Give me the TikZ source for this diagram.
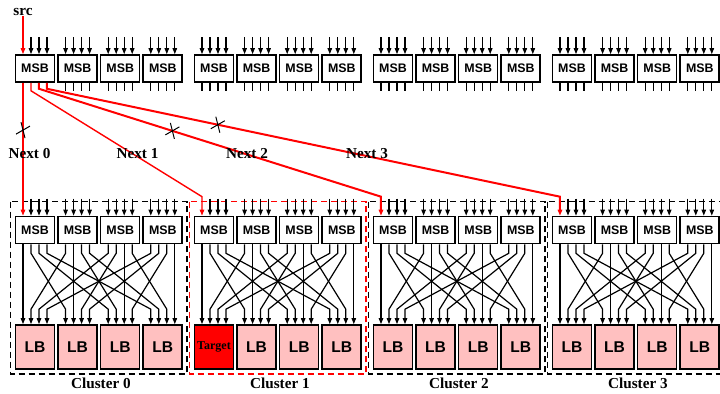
\documentclass[tikz,border=0pt]{standalone}
\usepackage{fontspec}
\setmainfont{Liberation Serif}
\newfontfamily\boxfont{Liberation Sans}
\usetikzlibrary{arrows.meta,calc}
\definecolor{lbpink}{HTML}{FFC0C0}
\definecolor{hotred}{HTML}{FF0000}
\tikzset{
  msb/.style    ={draw,line width=0.8pt,fill=white,minimum width=19.5pt,minimum height=13.5pt,inner sep=0pt,font=\boxfont\bfseries\fontsize{6.2}{7}\selectfont},
  lb/.style     ={msb,fill=lbpink,minimum height=22pt,font=\boxfont\bfseries\fontsize{7.8}{8}\selectfont},
  target/.style ={lb,fill=hotred,font=\bfseries\fontsize{6}{7}\selectfont},
  wire/.style   ={-{Triangle[length=3pt,width=2.2pt]},line width=0.6pt},
  stub/.style   ={line width=0.6pt},
  redarr/.style ={wire,draw=hotred,line width=0.7pt},
  redthick/.style={redarr,line width=1pt},
  xmark/.style  ={line width=0.5pt},
  cluster/.style={dash pattern=on 3pt off 2pt,line width=0.8pt},
  lbl/.style    ={font=\bfseries\fontsize{7.6}{9}\selectfont,inner sep=0pt},
}

\begin{document}
\begin{tikzpicture}[x=0.5pt,y=-0.5pt]
  \useasboundingbox (0,0) rectangle (720,394);
  \clip (0,0) rectangle (720,394);

  % switch boxes and logic blocks
  \foreach \cl in {0,...,3}
    \foreach \bk in {0,...,3} {
      \pgfmathsetmacro\bx{35+179*\cl+42.6*\bk}
      \node[msb] (top-\cl-\bk) at (\bx,68.5) {MSB};
      \node[msb] (msb-\cl-\bk) at (\bx,230) {MSB};
      \ifnum\cl\bk=10
        \node[target] (lb-\cl-\bk) at (\bx,347) {Target};
      \else
        \node[lb] (lb-\cl-\bk) at (\bx,347) {LB};
      \fi
    }

  % clusters
  \foreach \cl in {0,...,3} {
    \ifnum\cl=1 \def\cc{hotred}\else\def\cc{black}\fi
    \draw[cluster,draw=\cc] ($(msb-\cl-0.north west)+(-4,-14)$) rectangle ($(lb-\cl-3.south east)+(4,4)$);
    \node[lbl] (cl-\cl) at ($(lb-\cl-0.south)!0.5!(lb-\cl-3.south)+(2,14)$) {Cluster \cl};
  }

  % pins and crossbar
  \foreach \cl in {0,...,3}
    \foreach \bk in {0,...,3}
      \foreach \pj in {0,...,3} {
        \pgfmathsetmacro\dx{-12+8*\pj}
        \pgfmathsetmacro\ddx{-12+8*\bk}
        \ifnum\cl\bk\pj=0 \else
          \draw[wire] ($(top-\cl-\bk.north)+(\dx,-17)$) -- ($(top-\cl-\bk.north)+(\dx,0)$);
        \fi
        \ifnum\cl\bk=0 \else
          \draw[stub] ($(top-\cl-\bk.south)+(\dx,0)$) -- ++(0,8);
        \fi
        \ifnum\bk\pj=0 \else
          \draw[wire] ($(msb-\cl-\bk.north)+(\dx,-17)$) -- ($(msb-\cl-\bk.north)+(\dx,0)$);
        \fi
        \draw[wire] ($(msb-\cl-\bk.south)+(\dx,0)$) -- ++(0,9)
          -- ($(lb-\cl-\pj.north)+(\ddx,-15)$) -- ($(lb-\cl-\pj.north)+(\ddx,0)$);
      }

  % routes from the source
  \node[lbl] (src) at (23,12) {src};
  \draw[redarr] (src.south) -- (src.south |- top-0-0.north);
  \draw[redarr] ($(top-0-0.south)+(-12,0)$) -- coordinate[pos=0.356] (cut0) ($(msb-0-0.north)+(-12,0)$);
  \draw[redarr] ($(top-0-0.south)+(-4,0)$) -- ++(0,8)
    -- ($(msb-1-0.north)+(-12,-19)$) -- ($(msb-1-0.north)+(-12,0)$);
  \draw[redthick] ($(top-0-0.south)+(4,0)$) -- ++(0,6)
    -- coordinate[pos=0.39] (cut2) ($(msb-2-0.north)+(-12,-19)$) -- ($(msb-2-0.north)+(-12,0)$);
  \draw[redthick] ($(top-0-0.south)+(12,0)$) -- ++(0,6)
    -- coordinate[pos=0.333] (cut3) ($(msb-3-0.north)+(-12,-19)$) -- ($(msb-3-0.north)+(-12,0)$);

  \foreach \p in {cut0,cut2,cut3}
    \draw[xmark] ($(\p)+(-7,4)$) -- ($(\p)+(7,-4)$) ($(\p)+(-2,-8)$) -- ($(\p)+(2,8)$);

  \node[lbl] (nx0) at (29.5,154) {Next 0};
  \node[lbl] (nx1) at (137.5,154) {Next 1};
  \node[lbl] (nx2) at (247,154) {Next 2};
  \node[lbl] (nx3) at (367,154) {Next 3};
\end{tikzpicture}
\end{document}
